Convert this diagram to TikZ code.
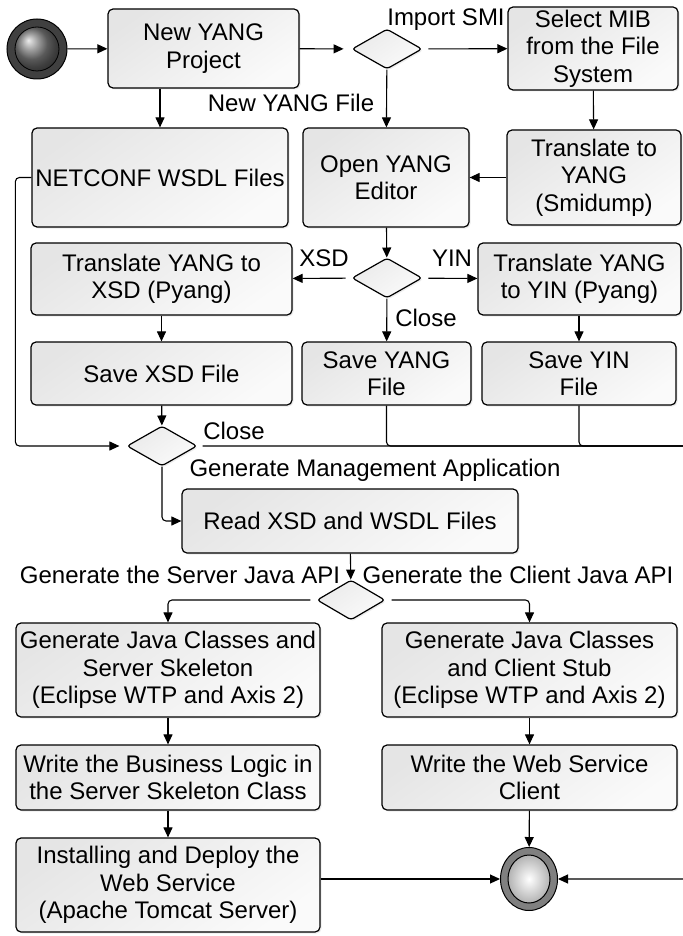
\documentclass[tikz,border=0pt]{standalone}
\usepackage{fontspec}
\setmainfont{Liberation Sans}
\usetikzlibrary{arrows.meta,shapes.geometric,shadows,calc}
\newcommand\dfont{\fontsize{24}{27.5}\selectfont}
\tikzset{
  box/.style={draw=black, line width=1.2pt, rounded corners=5pt,
    top color=black!10, bottom color=black!2, shading angle=35,
    align=center, inner sep=1pt, font=\dfont,
    drop shadow={opacity=0.15, shadow xshift=1.5pt, shadow yshift=-1.5pt}},
  dec/.style={diamond, draw=black, line width=1.2pt, rounded corners=3pt,
    minimum width=70pt, minimum height=40pt, inner sep=0pt,
    top color=black!8, bottom color=black!2, shading angle=35,
    drop shadow={opacity=0.15, shadow xshift=1.5pt, shadow yshift=-1.5pt}},
  arr/.style={line width=1.1pt, -{Triangle[length=10pt,width=9pt]}},
  ln/.style={line width=1.1pt},
  lbl/.style={font=\dfont, inner sep=0pt}
}
\begin{document}
\begin{tikzpicture}[x=1pt,y=-1pt]
\useasboundingbox (0,0) rectangle (682,936);
\fill[white] (0,0) rectangle (682,936);

% start / end
\node[circle, draw=black, line width=1pt, fill=black!75, minimum size=60pt, inner sep=0pt] (start) at (37,49) {};
\node[circle, draw=black, line width=0.8pt, ball color=black!50, minimum size=44pt, inner sep=0pt] (starti) at (start) {};
\node[ellipse, draw=black, line width=1pt, fill=black!50, minimum width=57pt, minimum height=63pt, inner sep=0pt] (endc) at (529,879) {};
\node[ellipse, draw=black, line width=1pt, inner color=white, outer color=black!30, minimum width=42pt, minimum height=48pt, inner sep=0pt] (endi) at (endc) {};

% boxes
\node[box, minimum width=191pt, minimum height=79pt] (proj) at (203.5,48.5) {New YANG\\Project};
\node[box, minimum width=170pt, minimum height=83pt] (mib) at (593,48.5) {Select MIB\\from the File\\System};
\node[box, minimum width=256pt, minimum height=99pt] (netconf) at (160,177.5) {NETCONF WSDL Files};
\node[box, minimum width=166pt, minimum height=99pt] (editor) at (386,177.5) {Open YANG\\Editor};
\node[box, minimum width=174pt, minimum height=95pt] (tyang) at (594,177.5) {Translate to\\YANG\\(Smidump)};
\node[box, minimum width=261pt, minimum height=72pt] (txsd) at (161.5,279) {Translate YANG to\\XSD (Pyang)};
\node[box, minimum width=203pt, minimum height=72pt] (tyin) at (579.5,279) {Translate YANG\\to YIN (Pyang)};
\node[box, minimum width=261pt, minimum height=63pt] (sxsd) at (161.5,373.5) {Save XSD File};
\node[box, minimum width=169pt, minimum height=63pt] (syang) at (386.5,373.5) {Save YANG\\File};
\node[box, minimum width=194pt, minimum height=63pt] (syin) at (579,373.5) {Save YIN\\File};
\node[box, minimum width=336pt, minimum height=64pt] (read) at (350,521) {Read XSD and WSDL Files};
\node[box, minimum width=304pt, minimum height=94pt] (gserver) at (168,670) {Generate Java Classes and\\Server Skeleton\\(Eclipse WTP and Axis 2)};
\node[box, minimum width=295pt, minimum height=94pt] (gclient) at (529.5,670) {Generate Java Classes\\and Client Stub\\(Eclipse WTP and Axis 2)};
\node[box, minimum width=304pt, minimum height=65pt] (wbl) at (168,777.5) {Write the Business Logic in\\the Server Skeleton Class};
\node[box, minimum width=295pt, minimum height=65pt] (wclient) at (529.5,777.5) {Write the Web Service\\Client};
\node[box, minimum width=304pt, minimum height=94pt] (install) at (168,885) {Installing and Deploy the\\Web Service\\(Apache Tomcat Server)};

% decisions
\node[dec] (d1) at (387,49) {};
\node[dec] (d2) at (387,278) {};
\node[dec] (d3) at (162,446) {};
\node[dec, minimum width=68pt] (d4) at (351,600) {};

% labels
\node[lbl] (limport) at (446,20) {Import SMI};
\node[lbl] (lnew) at (291,103) {New YANG File};
\node[lbl] (lxsd) at (324,258) {XSD};
\node[lbl] (lyin) at (452,258) {YIN};
\node[lbl] (lclose1) at (426,318) {Close};
\node[lbl] (lclose2) at (234,431) {Close};
\node[lbl] (lgen) at (375,470) {Generate Management Application};
\node[lbl] (lserver) at (180,575) {Generate the Server Java API};
\node[lbl] (lclient) at (518,575) {Generate the Client Java API};

% connectors
\coordinate (rbus) at (688,446);
\coordinate (rbot) at (688,879);
\draw[arr] (start) -- (proj);
\draw[arr, shorten >=8pt] (proj) -- (d1);
\draw[arr, shorten <=6pt] (d1) -- (mib);
\draw[arr] (d1) -- (editor);
\draw[arr] (proj.south -| netconf.north) -- (netconf.north);
\draw[arr] (mib) -- (tyang);
\draw[arr] (tyang) -- (editor);
\draw[arr] (editor) -- (d2);
\draw[arr, shorten <=6pt] (d2) -- (txsd);
\draw[arr, shorten <=6pt] (d2) -- (tyin);
\draw[arr] (d2) -- (syang);
\draw[arr] (txsd) -- (sxsd);
\draw[arr] (tyin.south -| syin.north) -- (syin.north);
\draw[arr] (sxsd) -- (d3);
\draw[arr, rounded corners=4pt, shorten >=7pt] (netconf.west) -- ++(-16,0) |- (d3.west);
\draw[arr, rounded corners=4pt, shorten <=5pt] (d3.east) -- (rbus) -- (rbot) -- (endc.east);
\draw[ln, rounded corners=4pt] (syang.south) |- (rbus);
\draw[ln, rounded corners=4pt] (syin.south) |- (rbus);
\draw[arr, rounded corners=4pt] (d3.south) |- (read.west);
\draw[arr] (read) -- (d4);
\draw[arr, rounded corners=4pt, shorten <=6pt] (d4.west) -| (gserver.north);
\draw[arr, rounded corners=4pt, shorten <=6pt] (d4.east) -| (gclient.north);
\draw[arr] (gserver) -- (wbl);
\draw[arr] (wbl) -- (install);
\draw[arr] (gclient) -- (wclient);
\draw[arr] (wclient) -- (endc);
\draw[arr] (endc.west -| install.east) -- (endc.west);
\end{tikzpicture}
\end{document}
